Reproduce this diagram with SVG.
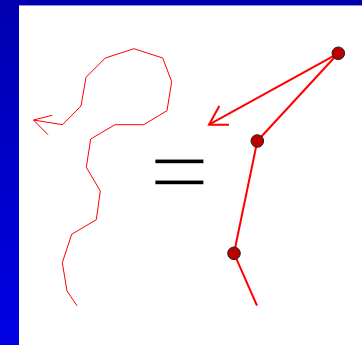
<svg xmlns="http://www.w3.org/2000/svg" width="362" height="345" viewBox="0 0 362 345">
<defs>
<linearGradient id="bg" x1="0" y1="0" x2="0" y2="1">
<stop offset="0" stop-color="#0000b0"/>
<stop offset="1" stop-color="#0000e4"/>
</linearGradient>
</defs>
<style>
.thin{fill:none;stroke:#ff0000;stroke-width:1;stroke-linejoin:miter}
.thick{fill:none;stroke:#ff0000;stroke-width:2}
.dot{fill:#bb0000;stroke:#222222;stroke-width:1}
.eq{font-family:"Liberation Serif","Times New Roman",serif;font-size:106.7px;fill:#000000;stroke:#ffffff;stroke-width:1.56}
</style>
<rect x="0" y="0" width="362" height="345" fill="url(#bg)"/>
<rect x="19" y="5" width="343" height="340" fill="#ffffff"/>
<line x1="19" y1="5.5" x2="362" y2="5.5" stroke="#9090e0" stroke-width="1"/>
<g id="connectors">
<polyline class="thin" points="77,305.7 67,291 62.3,262.7 71.7,234.3 96.3,219.7 100.3,191 86.3,167.3 90.7,139 115,124.7 143.7,124.7 167,110.7 171.7,81.7 162.7,58 134,48.7 105.3,58 86,77.3 81,106 62.5,124.7 33.5,120"/>
<polyline class="thin" points="52.3,115.3 33.5,120 48,134.7"/>
<line class="thick" x1="338.3" y1="53.3" x2="209" y2="124.7"/>
<polyline class="thick" points="219.3,106 209,124.7 229,124.7"/>
<line class="thick" x1="338.3" y1="53.3" x2="257.3" y2="141"/>
<line class="thick" x1="257.3" y1="141" x2="234" y2="253.3"/>
<line class="thick" x1="234" y1="253.3" x2="257" y2="305.7"/>
</g>
<g id="node-top"><circle class="dot" cx="338.3" cy="53.3" r="6.3"/></g>
<g id="node-mid"><circle class="dot" cx="257.3" cy="141" r="6.3"/></g>
<g id="node-low"><circle class="dot" cx="234" cy="253.3" r="6.3"/></g>
<g id="equals"><text class="eq" x="149.3" y="207.4">=</text></g>
</svg>
